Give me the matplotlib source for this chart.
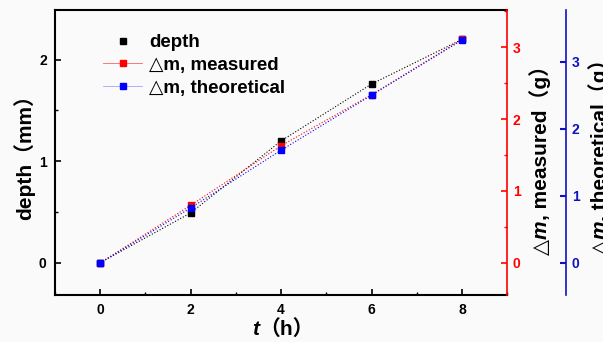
import matplotlib.pyplot as plt
from matplotlib.lines import Line2D
from matplotlib.ticker import MultipleLocator

plt.rcParams['font.family'] = ['Liberation Sans', 'DejaVu Sans', 'Noto Sans CJK SC']
plt.rcParams['font.weight'] = 'bold'

# data
t = [0, 2, 4, 6, 8]
depth = [0, 0.49, 1.20, 1.76, 2.20]
dm_measured = [0, 0.80, 1.63, 2.34, 3.11]
dm_theoretical = [0, 0.82, 1.68, 2.50, 3.32]
labels = ['depth', '△m, measured', '△m, theoretical']

W, H = 603, 342
fig = plt.figure(figsize=(W / 100, H / 100), dpi=100, facecolor='#fafafa')
ax = fig.add_axes([0.0912, 0.137, 0.750, 0.834])
ax.set_facecolor('#fafafa')
ax2 = ax.twinx()
ax3 = ax.twinx()

red = '#ff0000'
blue = '#0000ff'
navy = '#1010c0'

ax.plot(t, depth, color='black', ls=':', lw=0.8)
ax.plot(t, depth, 's', color='black', ms=5)
ax2.plot(t, dm_measured, 's', color=red, ms=5, ls=':', lw=0.8)
ax3.plot(t, dm_theoretical, 's', color=blue, ms=5, ls=':', lw=0.8)

ax.set_xlim(-1, 9)
ax.set_ylim(-0.32, 2.49)
ax2.set_ylim(-0.45, 3.52)
ax3.set_ylim(-0.48, 3.77)

ax.xaxis.set_major_locator(MultipleLocator(2))
ax.xaxis.set_minor_locator(MultipleLocator(1))
ax.yaxis.set_major_locator(MultipleLocator(1))
ax.yaxis.set_minor_locator(MultipleLocator(0.5))
ax2.yaxis.set_major_locator(MultipleLocator(1))
ax2.yaxis.set_minor_locator(MultipleLocator(0.5))
ax3.yaxis.set_major_locator(MultipleLocator(1))

for s in ax.spines.values():
    s.set_linewidth(1.5)
ax.spines['right'].set_visible(False)
ax.tick_params(which='major', direction='in', length=4, width=1.2, labelsize=10, pad=6)
ax.tick_params(which='minor', direction='in', length=2, width=1)

for s in ['left', 'top', 'bottom']:
    ax2.spines[s].set_visible(False)
    ax3.spines[s].set_visible(False)
ax2.spines['right'].set_color(red)
ax2.spines['right'].set_linewidth(1.2)
ax2.tick_params(which='both', direction='in', colors=red, labelcolor=red, labelsize=10, pad=4)
ax2.tick_params(which='major', length=4, width=1.2)
ax2.tick_params(which='minor', length=2, width=1)

ax3.spines['right'].set_position(('outward', 59 * 0.72))
ax3.spines['right'].set_color(navy)
ax3.spines['right'].set_linewidth(1.2)
ax3.tick_params(which='major', direction='in', length=4, width=1.5,
                colors=navy, labelcolor=navy, labelsize=10, pad=4)


# axis titles with an italic letter, built from pieces (x, y in pixels from top-left)
def label(x, y, pieces, rotation=0, size=15):
    texts = [fig.text(0, 0, s, fontsize=size, fontstyle=st, fontweight='bold',
                      rotation=rotation, rotation_mode='anchor',
                      ha='center', va='baseline') for s, st in pieces]
    r = fig.canvas.get_renderer()
    lens = [tx.get_window_extent(r).width if rotation == 0
            else tx.get_window_extent(r).height for tx in texts]
    pos = -sum(lens) / 2
    for tx, L in zip(texts, lens):
        c = pos + L / 2
        if rotation == 0:
            tx.set_position(((x + c) / W, (H - y) / H))
        else:
            tx.set_position((x / W, (H - y + c) / H))
        pos += L


label(283, 335, [('t', 'italic'), ('（h）', 'normal')])
label(31, 152, [('depth（mm）', 'normal')], rotation=90)
label(547, 155, [('△', 'normal'), ('m', 'italic'), (', measured（g）', 'normal')], rotation=90)
label(606, 152, [('△', 'normal'), ('m', 'italic'), (', theoretical（g）', 'normal')], rotation=90)

handles = [
    Line2D([], [], marker='s', color='black', ls='none', ms=5),
    Line2D([], [], marker='s', color='#ff6060', mfc=red, mec=red, ls='-', lw=0.6, ms=5),
    Line2D([], [], marker='s', color='#9090ff', mfc=blue, mec=blue, ls='-', lw=0.5, ms=5),
]
ax3.legend(handles, labels, loc='upper left', bbox_to_anchor=(0.106, 0.915),
           frameon=False, borderaxespad=0, borderpad=0, fontsize=13.5,
           handlelength=2.1, handletextpad=0.35, labelspacing=0.3)

fig.savefig('out.png', dpi=100, facecolor=fig.get_facecolor())
